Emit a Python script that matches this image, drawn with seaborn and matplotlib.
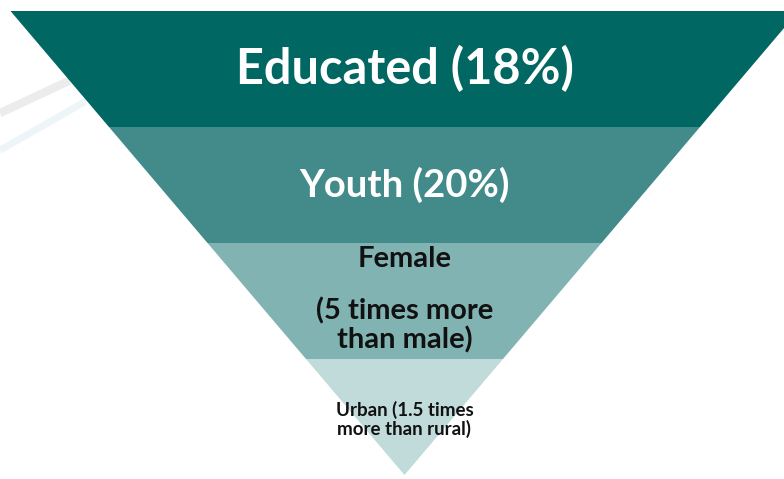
import matplotlib
matplotlib.use("Agg")
import matplotlib.pyplot as plt
import seaborn as sns
import pandas as pd

sns.set_theme(style="white")
plt.rcParams['font.family'] = ['Lato', 'DejaVu Sans']

# ---- data ----
stages = ["Educated", "Youth", "Female", "Urban"]
labels = ["Educated (18%)", "Youth (20%)", "Female\n\n(5 times more\nthan male)", "Urban (1.5 times\nmore than rural)"]
levels = [0, 1, 2, 3]          # funnel band index (top to bottom)
colors = ["#016762", "#438B8A", "#81B3B2", "#C0DBDA"]
text_colors = ["white", "white", "#111111", "#111111"]
font_sizes = [35, 27.5, 21, 13.5]

df = pd.DataFrame({"stage": stages, "level": levels})
n = len(stages)

fig = plt.figure(figsize=(7.84, 4.79), dpi=100)
ax = fig.add_axes([0, 0, 1, 1])

# faint watermark strokes
ax.plot([-1.0266, -0.85], [0.88, 0.6], color="#ECECEC", lw=6, solid_capstyle="butt", zorder=0)
ax.plot([-1.0266, -0.81], [1.2, 0.78], color="#EDF5F8", lw=5, solid_capstyle="butt", zorder=0)

for i, row in df.iterrows():
    top = row["level"]
    bot = top + 1
    wt = (n - top) / n
    wb = (n - bot) / n
    ax.fill([-wt, wt, wb, -wb], [top, top, bot, bot], color=colors[i], lw=0, zorder=1)

text_y = [0.5, 1.5, 2.43, 3.52]
for i in range(n):
    if i == 2:
        ax.text(0, 2.14, "Female", ha="center", va="center", color=text_colors[i],
                fontsize=font_sizes[i], fontweight="bold", zorder=2)
        ax.text(0, 2.71, "(5 times more\nthan male)", ha="center", va="center", color=text_colors[i],
                fontsize=font_sizes[i], fontweight="bold", linespacing=1.08, zorder=2)
    else:
        ax.text(0, text_y[i], labels[i], ha="center", va="center", color=text_colors[i],
                fontsize=font_sizes[i], fontweight="bold", linespacing=1.1, zorder=2)

ax.set_xlim(-1.0266, 0.9632)
ax.set_ylim(4.0345, -0.0948)
ax.axis("off")

fig.savefig("out.png", dpi=100)
